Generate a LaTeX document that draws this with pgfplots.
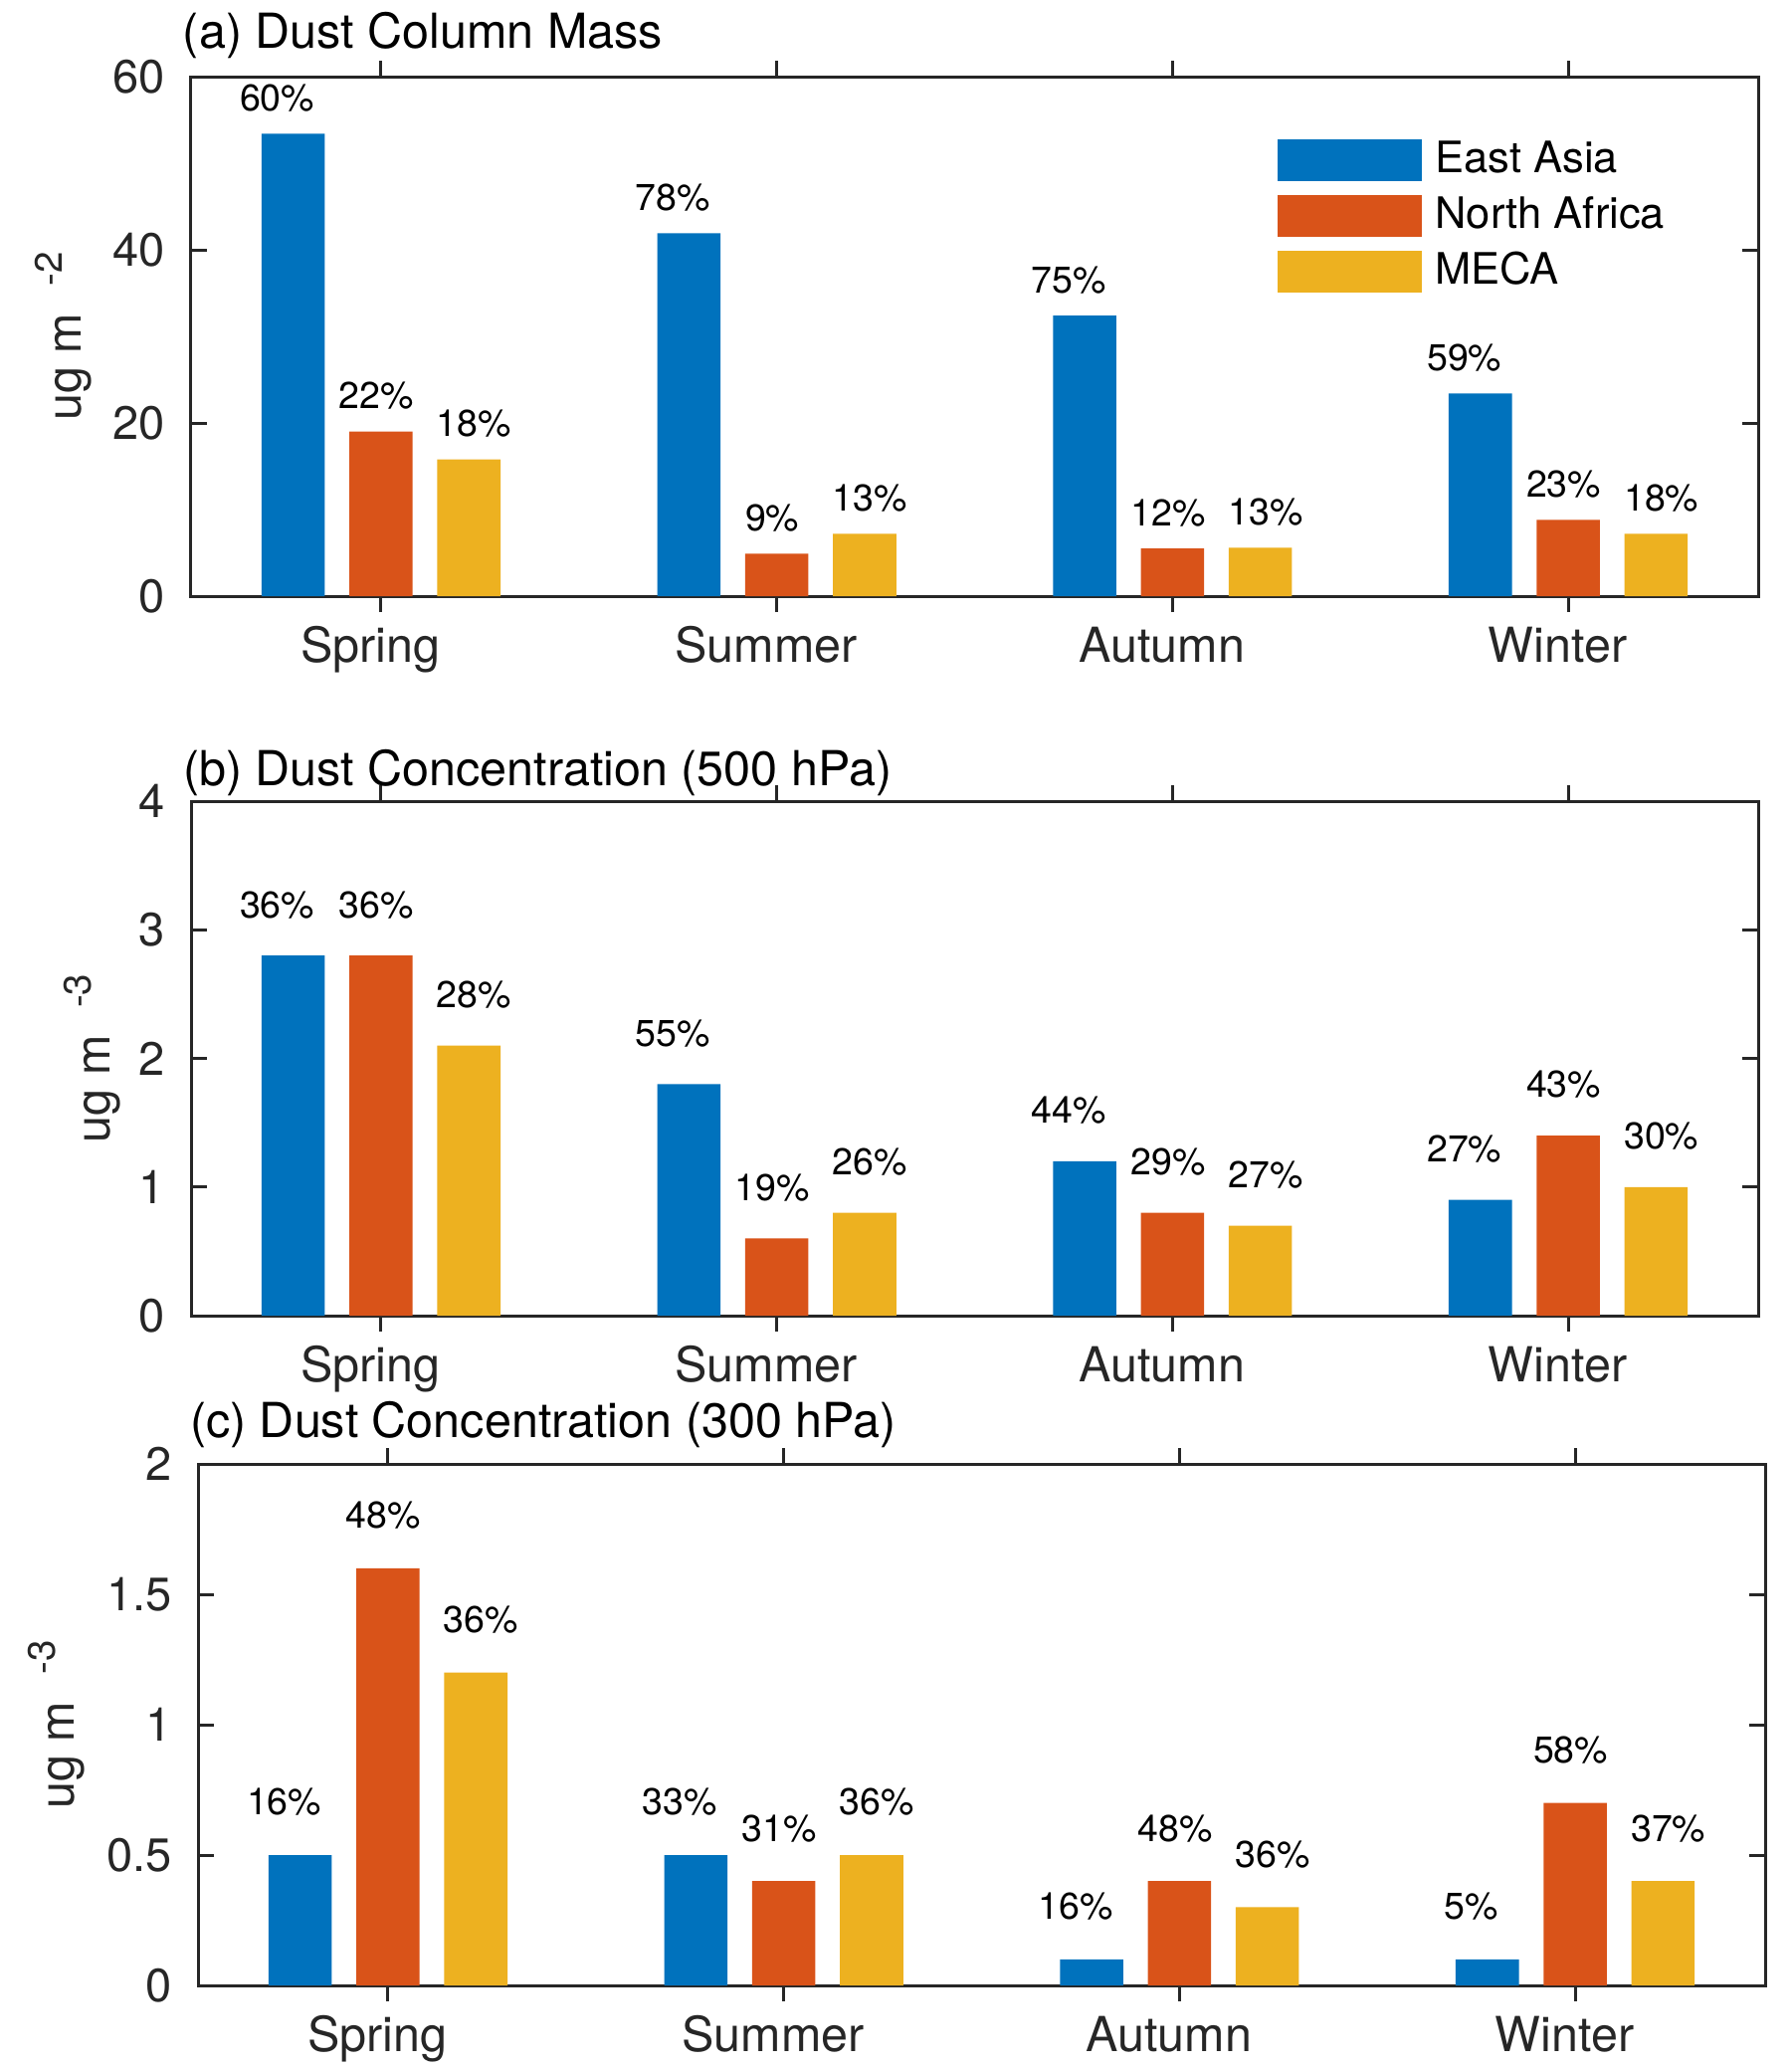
\documentclass[border=0pt]{standalone}
\usepackage{pgfplots}
\pgfplotsset{compat=1.18}
\usepackage{pgfplotstable}
\usepackage{fontspec}
\setmainfont{TeX Gyre Heros}

\definecolor{cA}{rgb}{0,0.447,0.741}
\definecolor{cB}{rgb}{0.85,0.325,0.098}
\definecolor{cC}{rgb}{0.929,0.694,0.125}
\definecolor{axc}{gray}{0.15}

\pgfplotstableread{
x ea na me pea pna pme
1 53.4 19.0 15.8 60 22 18
2 41.9 4.9 7.2 78 9 13
3 32.4 5.5 5.6 75 12 13
4 23.4 8.8 7.2 59 23 18
}\dataA
\pgfplotstableread{
x ea na me pea pna pme
1 2.8 2.8 2.1 36 36 28
2 1.8 0.6 0.8 55 19 26
3 1.2 0.8 0.7 44 29 27
4 0.9 1.4 1.0 27 43 30
}\dataB
\pgfplotstableread{
x ea na me pea pna pme
1 0.5 1.6 1.2 16 48 36
2 0.5 0.4 0.5 33 31 36
3 0.1 0.4 0.3 16 48 36
4 0.1 0.7 0.4 5 58 37
}\dataC

\pgfplotsset{
  barleg/.style={legend image code/.code={\fill[##1] (0pt,-4.2pt) rectangle (29pt,4.2pt);}},
  ylab/.style={every axis y label/.style={at={(axis description cs:#1,0.5)}, rotate=90, anchor=base, font=\fontsize{9.7}{11}\selectfont, text=axc}},
  ttl/.style={every axis title/.style={at={(rel axis cs:0,1)}, anchor=base west, inner sep=0pt, xshift=-1.8pt, yshift=#1, font=\fontsize{9.7}{11}\selectfont}},
  panel/.style={
    scale only axis, width=315pt,
    xmin=0.52, xmax=4.48,
    xtick={1,2,3,4}, xticklabels={Spring,Summer,Autumn,Winter},
    tick align=inside, tick pos=both, major tick length=3.2pt,
    axis line style={axc, line width=0.6pt},
    every tick/.style={axc, line width=0.6pt},
    /pgf/number format/assume math mode=true,
    yticklabel style={anchor=east, inner sep=0pt, xshift=-5.0pt, font=\fontsize{9.4}{11}\selectfont, text=axc},
    xticklabel style={anchor=base, inner sep=0pt, yshift=-10.15pt, xshift=-2.1pt, font=\fontsize{9.7}{11}\selectfont, text=axc},
    ybar, bar width=0.16,
    clip=false,
    point meta=explicit symbolic,
    nodes near coords={\pgfplotspointmeta\%},
    nodes near coords style={font=\fontsize{7.5}{9}\selectfont, anchor=center, text=black},
  },
}

\begin{document}
\begin{tikzpicture}
\path[use as bounding box] (0pt,0pt) rectangle (360pt,-415.8pt);

% Panel (a)
\begin{axis}[panel, at={(38.4pt,-119.8pt)}, anchor=south west, height=104.4pt,
  ymin=0, ymax=60, ytick={0,20,40,60},
  title={(a) Dust Column Mass}, ttl=5.8pt,
  ylab=-0.070, ylabel={ug m\hspace{5.5pt}\raisebox{3.8pt}{\fontsize{7.7}{9}\selectfont -2}},
  legend cell align=left,
  legend style={at={(0.693,1)}, anchor=north west, yshift=-12.4pt, draw=none, fill=none, inner sep=0pt,
    nodes={inner sep=0pt, font=\fontsize{8.7}{10}\selectfont, text=black},
    row sep=2.8pt, /tikz/every odd column/.append style={column sep=2.6pt}},
  ]
\addplot[fill=cA, draw=none, bar shift=-0.222, barleg, nodes near coords style={xshift=-3.2pt, yshift=7.2pt}] table[x=x, y=ea, meta=pea] {\dataA};
\addplot[fill=cB, draw=none, bar shift=0, barleg, nodes near coords style={xshift=-0.9pt, yshift=7.2pt}] table[x=x, y=na, meta=pna] {\dataA};
\addplot[fill=cC, draw=none, bar shift=0.222, barleg, nodes near coords style={xshift=1.06pt, yshift=7.2pt}] table[x=x, y=me, meta=pme] {\dataA};
\legend{East Asia, North Africa, MECA}
\end{axis}

% Panel (b)
\begin{axis}[panel, at={(38.4pt,-264.4pt)}, anchor=south west, height=103.4pt,
  ymin=0, ymax=4, ytick={0,1,2,3,4},
  title={(b) Dust Concentration (500 hPa)}, ttl=3.2pt,
  ylab=-0.052, ylabel={ug m\hspace{5.5pt}\raisebox{3.8pt}{\fontsize{7.7}{9}\selectfont -3}},
  ]
\addplot[fill=cA, draw=none, bar shift=-0.222, nodes near coords style={xshift=-3.2pt, yshift=10.2pt}] table[x=x, y=ea, meta=pea] {\dataB};
\addplot[fill=cB, draw=none, bar shift=0, nodes near coords style={xshift=-0.9pt, yshift=10.2pt}] table[x=x, y=na, meta=pna] {\dataB};
\addplot[fill=cC, draw=none, bar shift=0.222, nodes near coords style={xshift=1.06pt, yshift=10.2pt}] table[x=x, y=me, meta=pme] {\dataB};
\end{axis}

% Panel (c)
\begin{axis}[panel, at={(39.8pt,-399pt)}, anchor=south west, height=104.8pt,
  ymin=0, ymax=2, ytick={0,0.5,1,1.5,2},
  title={(c) Dust Concentration (300 hPa)}, ttl=5.4pt,
  ylab=-0.079, ylabel={ug m\hspace{5.5pt}\raisebox{3.8pt}{\fontsize{7.7}{9}\selectfont -3}},
  ]
\addplot[fill=cA, draw=none, bar shift=-0.222, nodes near coords style={xshift=-3.2pt, yshift=10.6pt}] table[x=x, y=ea, meta=pea] {\dataC};
\addplot[fill=cB, draw=none, bar shift=0, nodes near coords style={xshift=-0.9pt, yshift=10.6pt}] table[x=x, y=na, meta=pna] {\dataC};
\addplot[fill=cC, draw=none, bar shift=0.222, nodes near coords style={xshift=1.06pt, yshift=10.6pt}] table[x=x, y=me, meta=pme] {\dataC};
\end{axis}
\end{tikzpicture}
\end{document}
